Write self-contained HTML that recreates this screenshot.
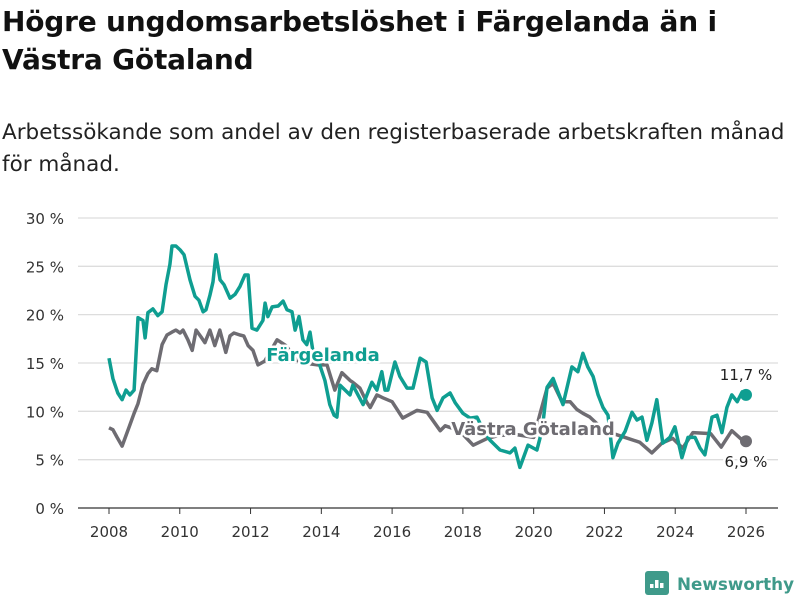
<!DOCTYPE html>
<html><head><meta charset="utf-8"><style>
body{margin:0;background:#fff;width:800px;height:600px;overflow:hidden;font-family:"DejaVu Sans","Liberation Sans",sans-serif;}
#title{position:absolute;left:2px;top:3px;font-size:28px;font-weight:bold;line-height:38px;color:#111;letter-spacing:-0.2px}
#sub{position:absolute;left:2px;top:117px;font-size:21.5px;line-height:32px;color:#222;letter-spacing:0px}
svg{position:absolute;left:0;top:0}
</style></head><body>
<div id="title">Högre ungdomsarbetslöshet i Färgelanda än i<br>Västra Götaland</div>
<div id="sub">Arbetssökande som andel av den registerbaserade arbetskraften månad<br>för månad.</div>
<svg id="chart" width="800" height="600"></svg>
<script>
const yTicks=[0,5,10,15,20,25,30];
const xTicks=[2008,2010,2012,2014,2016,2018,2020,2022,2024,2026];
const fDates=[2008.00,2008.11,2008.25,2008.37,2008.48,2008.59,2008.71,2008.82,2008.96,2009.02,2009.10,2009.24,2009.38,2009.50,2009.61,2009.72,2009.78,2009.89,2010.01,2010.12,2010.29,2010.43,2010.54,2010.66,2010.74,2010.85,2010.94,2011.02,2011.14,2011.25,2011.42,2011.56,2011.70,2011.84,2011.93,2012.04,2012.18,2012.35,2012.41,2012.49,2012.61,2012.78,2012.92,2013.03,2013.17,2013.26,2013.37,2013.48,2013.59,2013.68,2013.76,2013.91,2014.10,2014.24,2014.36,2014.44,2014.53,2014.81,2014.89,2015.18,2015.43,2015.57,2015.71,2015.80,2015.88,2016.08,2016.22,2016.42,2016.59,2016.79,2016.96,2017.13,2017.27,2017.44,2017.64,2017.78,2018.00,2018.20,2018.40,2018.57,2018.77,2019.05,2019.33,2019.47,2019.61,2019.84,2020.09,2020.24,2020.38,2020.55,2020.69,2020.83,2021.08,2021.25,2021.39,2021.53,2021.68,2021.82,2021.96,2022.10,2022.24,2022.38,2022.58,2022.78,2022.92,2023.06,2023.20,2023.34,2023.48,2023.65,2023.85,2023.99,2024.19,2024.36,2024.56,2024.70,2024.84,2025.04,2025.18,2025.32,2025.46,2025.60,2025.75,2025.89,2026.0];
const fValues=[15.5,13.4,11.9,11.2,12.2,11.7,12.2,19.7,19.4,17.6,20.2,20.6,19.9,20.3,23.1,25.2,27.1,27.1,26.7,26.2,23.6,21.9,21.5,20.3,20.5,22.0,23.4,26.2,23.6,23.1,21.7,22.1,22.9,24.1,24.1,18.6,18.4,19.4,21.2,19.8,20.8,20.9,21.4,20.5,20.3,18.4,19.8,17.4,16.9,18.2,16.3,15.3,13.2,10.7,9.6,9.4,12.7,11.7,12.7,10.7,13.0,12.2,14.1,12.2,12.2,15.1,13.6,12.4,12.4,15.5,15.1,11.4,10.1,11.4,11.9,10.9,9.8,9.3,9.4,8.1,7.0,6.0,5.7,6.2,4.2,6.5,6.0,8.1,12.5,13.4,12.0,10.7,14.6,14.1,16.0,14.6,13.6,11.7,10.4,9.6,5.2,6.7,7.9,9.9,9.1,9.4,7.0,8.8,11.2,6.7,7.3,8.4,5.2,7.3,7.3,6.2,5.5,9.4,9.6,7.8,10.4,11.7,11.0,12.0,11.7];
const gDates=[2008.00,2008.11,2008.23,2008.37,2008.48,2008.59,2008.71,2008.82,2008.96,2009.10,2009.21,2009.35,2009.50,2009.64,2009.78,2009.89,2010.01,2010.09,2010.23,2010.35,2010.46,2010.60,2010.71,2010.85,2010.99,2011.13,2011.30,2011.42,2011.53,2011.70,2011.81,2011.93,2012.07,2012.21,2012.40,2012.75,2013.00,2013.30,2013.50,2013.90,2014.16,2014.38,2014.58,2014.81,2014.89,2015.09,2015.29,2015.38,2015.57,2015.74,2016.00,2016.30,2016.70,2016.99,2017.36,2017.50,2017.90,2018.29,2018.69,2019.00,2019.50,2020.00,2020.20,2020.38,2020.55,2020.80,2021.03,2021.22,2021.39,2021.59,2022.00,2022.58,2023.00,2023.34,2023.62,2023.93,2024.21,2024.50,2025.00,2025.30,2025.60,2025.90,2026.0];
const gValues=[8.3,8.1,7.3,6.4,7.5,8.6,9.8,10.8,12.8,13.9,14.4,14.2,16.9,17.9,18.2,18.4,18.1,18.4,17.4,16.3,18.4,17.7,17.1,18.4,16.8,18.4,16.1,17.8,18.1,17.9,17.8,16.8,16.3,14.8,15.2,17.4,16.8,15.3,15.0,14.8,14.8,12.2,14.0,13.2,13.0,12.4,10.9,10.4,11.7,11.4,11.0,9.3,10.1,9.9,8.0,8.5,8.0,6.5,7.2,7.5,7.6,7.3,10.0,12.4,12.9,11.0,11.0,10.2,9.8,9.4,8.0,7.3,6.8,5.7,6.7,7.2,6.2,7.8,7.7,6.3,8.0,7.0,6.9];
const NS="http://www.w3.org/2000/svg";
const svg=document.getElementById('chart');
const X=y=>109+(y-2008)*(637/18);
const Y=v=>508-v*9.667;
function mk(t,a,p){const e=document.createElementNS(NS,t);for(const k in a)e.setAttribute(k,a[k]);(p||svg).appendChild(e);return e;}
yTicks.forEach(v=>{
 const l=mk('line',{x1:78,x2:778,y1:Y(v),y2:Y(v),stroke:v===0?'#333':'#ddd','stroke-width':1.3});
 
 
 const t=mk('text',{x:64,y:Y(v)+6,'text-anchor':'end','font-size':15,fill:'#333'});
 t.textContent=v+' %';
 
 
});
xTicks.forEach(v=>{
 const l=mk('line',{x1:X(v),x2:X(v),y1:508,y2:514,stroke:'#333','stroke-width':1});
 
 
 const t=mk('text',{x:X(v),y:537,'text-anchor':'middle','font-size':15,fill:'#333'});
 t.textContent=v;
 
 
});
function line(d,v,c,name){
 const p=mk('path',{d:d.map((x,i)=>(i?'L':'M')+X(x).toFixed(1)+','+Y(v[i]).toFixed(1)).join(''),fill:'none',stroke:c,'stroke-width':3.5,'stroke-linejoin':'round'});
 
 
 const n=d.length-1;
 const c2=mk('circle',{cx:X(d[n]),cy:Y(v[n]),r:6,fill:c});
 
 
}
line(gDates,gValues,'#6e6c72','vastra-gotaland-line');
line(fDates,fValues,'#0f9e91','fargelanda-line');
function lab(x,y,txt,c,name,sz,bold,halo){
 const t=mk('text',{x:x,y:y,'font-size':sz,fill:c,'font-weight':bold?'bold':'normal','text-anchor':'middle',stroke:halo?'#fff':'none','stroke-width':halo?5:0,'paint-order':'stroke','stroke-linejoin':'round'});
 t.textContent=txt;
 
 
}
lab(323,361,'Färgelanda','#0f9e91','fargelanda-label',18,true,true);
lab(533,435,'Västra Götaland','#6e6c72','vastra-gotaland-label',18,true,true);
lab(746,380,'11,7 %','#222','fargelanda-last-value',15,false,true);
lab(746,467,'6,9 %','#222','vastra-gotaland-last-value',15,false,true);
const g=mk('g',{});


mk('rect',{x:645,y:571,width:24,height:24,rx:3,fill:'#3f9a8a'},g);
[[650,584,4],[655,580,8],[660,583,5]].forEach(r=>mk('rect',{x:r[0],y:r[1],width:3.5,height:r[2],fill:'#fff'},g));
const lt=mk('text',{x:677,y:590,'font-size':17,'font-weight':'bold',fill:'#3f9a8a',textLength:117,lengthAdjust:'spacingAndGlyphs'},g);
lt.textContent='Newsworthy';
</script>
</body></html>
